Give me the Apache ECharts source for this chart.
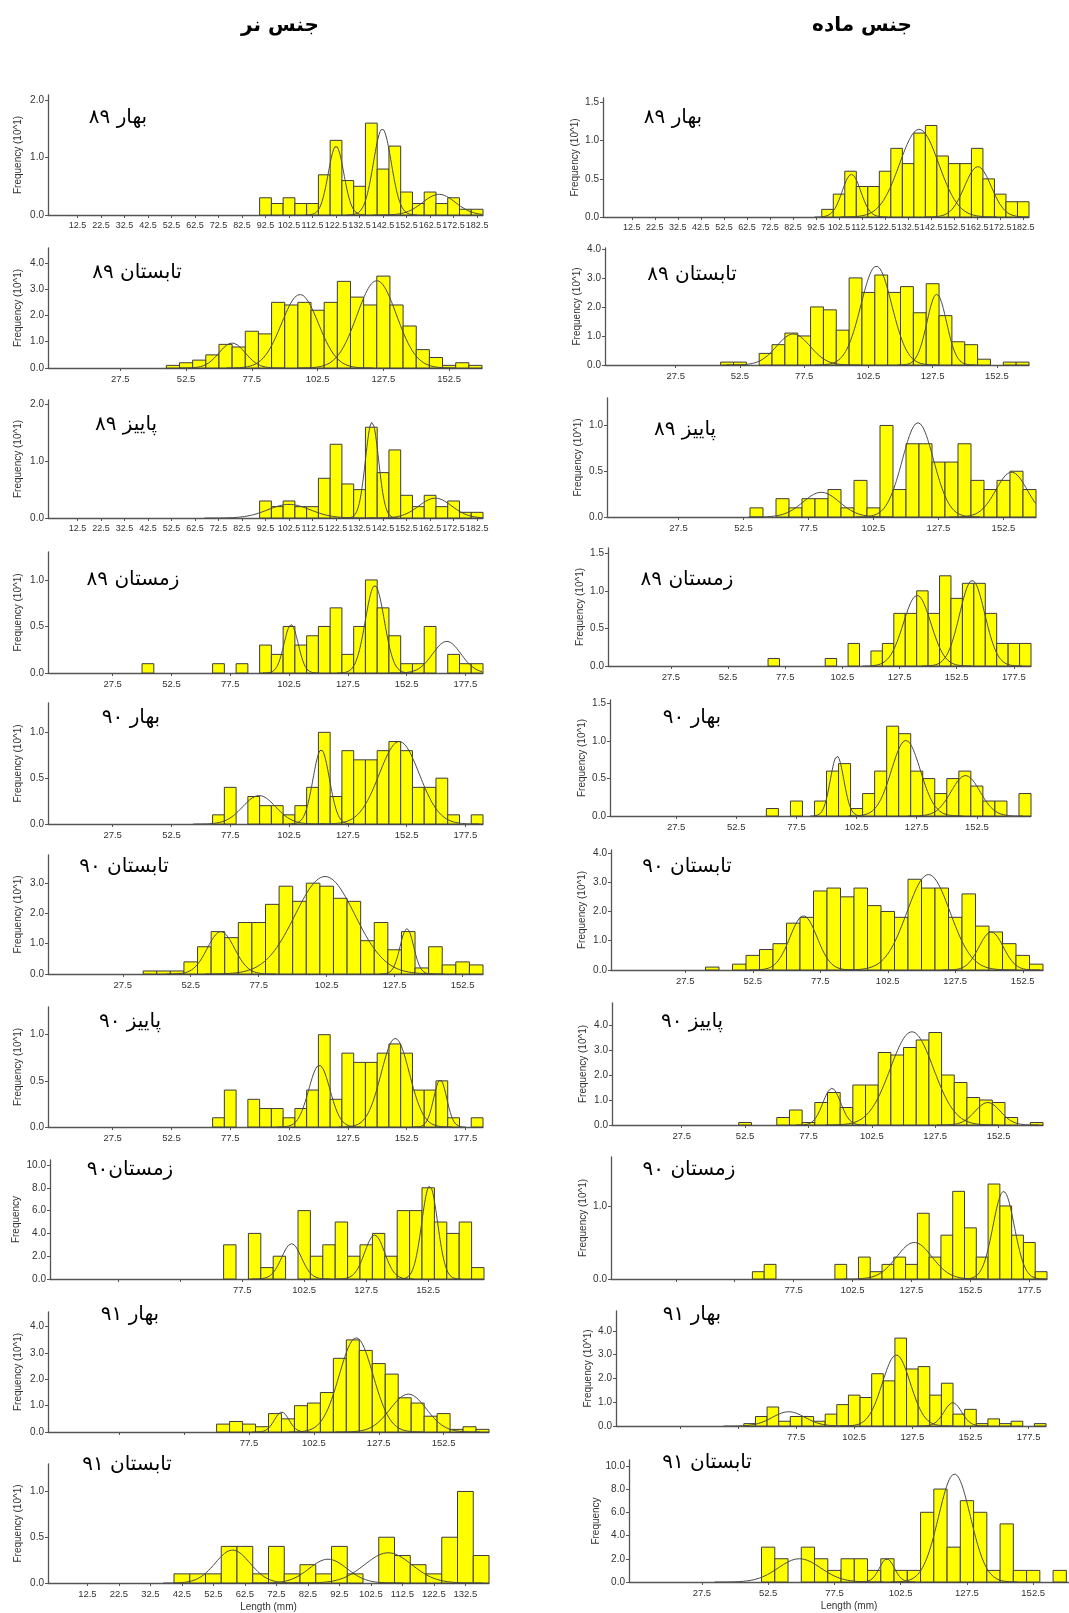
<!DOCTYPE html>
<html><head><meta charset="utf-8">
<script src="https://cdn.jsdelivr.net/npm/echarts@6/dist/echarts.min.js"></script>
<style>html,body{margin:0;padding:0;background:#fff}#c{width:1069px;height:1613px}</style>
</head><body><div id="c"></div>
<script>
// ---------------- DATA (frequencies per 5 mm length class) ----------------
const BIN_WIDTH = 5;

const maleSpring89Start = 90;
const maleSpring89 = [0.3,0.2,0.3,0.2,0.2,0.7,1.3,0.6,0.5,1.6,0.8,1.2,0.4,0.2,0.4,0.2,0.3,0.1,0.1];
const maleSpring89Fit = [[122.5,1.2,3.3],[142.2,1.5,3.8],[166.3,0.36,7]]; // [mean, peak, sd]

const maleSummer89Start = 45;
const maleSummer89 = [0.1,0.2,0.3,0.5,0.9,0.8,1.4,1.3,2.5,2.4,2.5,2.2,2.5,3.3,2.7,2.4,3.5,2.4,1.6,0.7,0.4,0.1,0.2,0.1];
const maleSummer89Fit = [[70,0.95,5],[95.8,2.8,7],[125,3.33,7.5]];

const maleAutumn89Start = 90;
const maleAutumn89 = [0.3,0.2,0.3,0.2,0.2,0.7,1.3,0.6,0.5,1.6,0.8,1.2,0.4,0.2,0.4,0.2,0.3,0.1,0.1];
const maleAutumn89Fit = [[102.5,0.24,9],[137.8,1.69,2.8],[164.7,0.35,7]];

const maleWinter89Start = 40;
const maleWinter89 = [0.1,0,0,0,0,0,0.1,0,0.1,0,0.3,0.2,0.5,0.3,0.4,0.5,0.7,0.2,0.5,1.0,0.7,0.4,0.1,0.1,0.5,0,0.2,0.1,0.1];
const maleWinter89Fit = [[103.4,0.52,3],[139,0.94,4],[169.6,0.34,6]];

const maleSpring90Start = 70;
const maleSpring90 = [0.1,0.4,0,0.3,0.2,0.2,0.1,0.2,0.4,1.0,0.3,0.8,0.7,0.7,0.8,0.9,0.8,0.4,0.4,0.5,0.1,0,0.1];
const maleSpring90Fit = [[89.8,0.31,7],[116.2,0.81,3.5],[149.4,0.9,8.5]];

const maleSummer90Start = 35;
const maleSummer90 = [0.1,0.1,0.1,0.4,0.9,1.4,1.2,1.7,1.7,2.3,2.9,2.4,3.0,2.9,2.5,2.4,1.1,1.7,0.8,1.4,0.2,0.9,0.3,0.4,0.3];
const maleSummer90Fit = [[63.6,1.4,5],[101.9,3.22,11],[132,1.5,2.5]];

const maleAutumn90Start = 70;
const maleAutumn90 = [0.1,0.4,0,0.3,0.2,0.2,0.1,0.2,0.4,1.0,0.3,0.8,0.7,0.7,0.8,0.9,0.8,0.4,0.4,0.5,0.1,0,0.1];
const maleAutumn90Fit = [[115.4,0.67,4.5],[147.7,0.96,6],[166.8,0.51,2.8]];

const maleWinter90Start = 70;
const maleWinter90 = [3,0,4,1,2,0,6,2,3,5,2,3,4,2,6,6,8,5,4,5,1];
const maleWinter90Fit = [[97.4,3.1,4],[130.9,3.86,4],[153.1,8.16,3.2]];

const maleSpring91Start = 65;
const maleSpring91 = [0.3,0.4,0.3,0.2,0.7,0.5,1.0,1.1,1.5,2.8,3.5,3.1,2.6,2.2,1.3,1.1,0.6,0.7,0.1,0.2,0.1];
const maleSpring91Fit = [[90.1,0.76,2.8],[118.8,3.58,6.5],[138.9,1.44,7]];

const maleSummer91Start = 40;
const maleSummer91 = [0.1,0.1,0.1,0.4,0.4,0.1,0.4,0.1,0.2,0.1,0.4,0.1,0,0.5,0.3,0.2,0.1,0.5,1.0,0.3];
const maleSummer91Fit = [[58.6,0.36,5.5],[88.9,0.26,6],[108,0.33,7.5]];

const femaleSpring89Start = 95;
const femaleSpring89 = [0.1,0.3,0.6,0.4,0.4,0.6,0.9,0.7,1.1,1.2,0.8,0.7,0.7,0.9,0.5,0.3,0.2,0.2];
const femaleSpring89Fit = [[107.9,0.56,4],[137.3,1.15,8.5],[162.8,0.66,5.8]];

const femaleSummer89Start = 45;
const femaleSummer89 = [0.1,0.1,0,0.4,0.7,1.1,1.0,2.0,1.9,1.2,3.0,2.5,3.1,2.5,2.7,1.8,2.8,1.7,0.8,0.7,0.2,0,0.1,0.1];
const femaleSummer89Fit = [[73.3,1.07,6.5],[105.6,3.41,6],[129.1,2.44,3.8]];

const femaleAutumn89Start = 55;
const femaleAutumn89 = [0.1,0,0.2,0.1,0.2,0.2,0.3,0.1,0.4,0.1,1.0,0.3,0.8,0.8,0.6,0.6,0.8,0.4,0.3,0.4,0.5,0.3];
const femaleAutumn89Fit = [[82.4,0.27,7],[119.6,1.03,6],[155.6,0.49,6]];

const femaleWinter89Start = 70;
const femaleWinter89 = [0.1,0,0,0,0,0.1,0,0.3,0,0.2,0.3,0.7,0.7,1.0,0.7,1.2,0.9,1.1,1.1,0.7,0.3,0.3,0.3];
const femaleWinter89Fit = [[135.2,0.94,6],[159.3,1.14,5.5]];

const femaleSpring90Start = 65;
const femaleSpring90 = [0.1,0,0.2,0,0.2,0.6,0.7,0.1,0.3,0.6,1.2,1.1,0.6,0.5,0.3,0.5,0.6,0.4,0.2,0.2,0,0.3];
const femaleSpring90Fit = [[94.4,0.8,2.8],[123,1.01,6],[147.8,0.54,6]];

const femaleSummer90Start = 35;
const femaleSummer90 = [0.1,0,0.2,0.5,0.7,0.9,1.6,1.8,2.7,2.8,2.5,2.8,2.2,2.0,1.8,3.1,2.8,2.8,1.8,2.6,1.5,1.3,0.9,0.5,0.2];
const femaleSummer90Fit = [[71.3,1.85,5],[117.6,3.26,8],[140.8,1.3,4.5]];

const femaleAutumn90Start = 50;
const femaleAutumn90 = [0.1,0,0,0.3,0.6,0.1,0.9,1.3,0.7,1.6,1.6,2.9,2.8,3.1,3.4,3.7,2.0,1.7,1.1,1.0,0.9,0.3,0,0.1];
const femaleAutumn90Fit = [[86.7,1.47,3.5],[118.3,3.73,8.5],[148.2,0.9,5]];

const femaleWinter90Start = 60;
const femaleWinter90 = [0.1,0.2,0,0,0,0,0,0.2,0,0.3,0.1,0.2,0.3,0.2,0.9,0.3,0.6,1.2,0.7,0.3,1.3,1.0,0.6,0.5,0.1];
const femaleWinter90Fit = [[128.7,0.5,7.5],[166.6,1.2,4.5]];

const femaleSpring91Start = 55;
const femaleSpring91 = [0.1,0.4,0.8,0.2,0.4,0.4,0.2,0.5,0.9,1.3,1.2,2.2,1.9,3.7,2.4,2.5,1.3,1.8,0.5,0.7,0.1,0.3,0.1,0.2,0,0.1];
const femaleSpring91Fit = [[74.3,0.6,7],[120.6,2.99,6],[144.9,0.98,3.8]];

const femaleSummer91Start = 50;
const femaleSummer91 = [3,2,0,3,2,1,2,2,1,2,1,1,6,8,3,7,6,1,5,1,1,0,1];
const femaleSummer91Fit = [[64.3,2.0,8],[97.3,2.0,2.8],[122.8,9.3,6]];

// tick label lists
const xTicksStep10 = [12.5,22.5,32.5,42.5,52.5,62.5,72.5,82.5,92.5,102.5,112.5,122.5,132.5,142.5,152.5,162.5,172.5,182.5];
const xTicksStep10Short = [12.5,22.5,32.5,42.5,52.5,62.5,72.5,82.5,92.5,102.5,112.5,122.5,132.5];
const xTicks25to152 = [27.5,52.5,77.5,102.5,127.5,152.5];
const xTicks25to177 = [27.5,52.5,77.5,102.5,127.5,152.5,177.5];
const xLabels77to152 = [77.5,102.5,127.5,152.5];
const xLabels77to177 = [77.5,102.5,127.5,152.5,177.5];
const yTicks012 = [0,1,2];
const yTicks0123 = [0,1,2,3];
const yTicks01234 = [0,1,2,3,4];
const yTicksHalf = [0,0.5,1];
const yTicksHalf15 = [0,0.5,1,1.5];
const yTicksEven = [0,2,4,6,8,10];
const yTicks01 = [0,1];

const headerMale = 'جنس نر';
const headerFemale = 'جنس ماده';
const Y10 = 'Frequency (10^1)';
const YRAW = 'Frequency';

const panels = [
  {t:'بهار ۸۹', s:maleSpring89Start, v:maleSpring89, f:maleSpring89Fit, xt:xTicksStep10, xl:xTicksStep10, yt:yTicks012, yn:Y10},
  {t:'تابستان ۸۹', s:maleSummer89Start, v:maleSummer89, f:maleSummer89Fit, xt:xTicks25to152, xl:xTicks25to152, yt:yTicks01234, yn:Y10},
  {t:'پاییز ۸۹', s:maleAutumn89Start, v:maleAutumn89, f:maleAutumn89Fit, xt:xTicksStep10, xl:xTicksStep10, yt:yTicks012, yn:Y10},
  {t:'زمستان ۸۹', s:maleWinter89Start, v:maleWinter89, f:maleWinter89Fit, xt:xTicks25to177, xl:xTicks25to177, yt:yTicksHalf, yn:Y10},
  {t:'بهار ۹۰', s:maleSpring90Start, v:maleSpring90, f:maleSpring90Fit, xt:xTicks25to177, xl:xTicks25to177, yt:yTicksHalf, yn:Y10},
  {t:'تابستان ۹۰', s:maleSummer90Start, v:maleSummer90, f:maleSummer90Fit, xt:xTicks25to152, xl:xTicks25to152, yt:yTicks0123, yn:Y10},
  {t:'پاییز ۹۰', s:maleAutumn90Start, v:maleAutumn90, f:maleAutumn90Fit, xt:xTicks25to177, xl:xTicks25to177, yt:yTicksHalf, yn:Y10},
  {t:'زمستان۹۰', s:maleWinter90Start, v:maleWinter90, f:maleWinter90Fit, xt:xTicks25to152, xl:xLabels77to152, yt:yTicksEven, yn:YRAW},
  {t:'بهار ۹۱', s:maleSpring91Start, v:maleSpring91, f:maleSpring91Fit, xt:xTicks25to152, xl:xLabels77to152, yt:yTicks01234, yn:Y10},
  {t:'تابستان ۹۱', s:maleSummer91Start, v:maleSummer91, f:maleSummer91Fit, xt:xTicksStep10Short, xl:xTicksStep10Short, yt:yTicksHalf, yn:Y10, xn:'Length (mm)'},
  {t:'بهار ۸۹', s:femaleSpring89Start, v:femaleSpring89, f:femaleSpring89Fit, xt:xTicksStep10, xl:xTicksStep10, yt:yTicksHalf15, yn:Y10},
  {t:'تابستان ۸۹', s:femaleSummer89Start, v:femaleSummer89, f:femaleSummer89Fit, xt:xTicks25to152, xl:xTicks25to152, yt:yTicks01234, yn:Y10},
  {t:'پاییز ۸۹', s:femaleAutumn89Start, v:femaleAutumn89, f:femaleAutumn89Fit, xt:xTicks25to152, xl:xTicks25to152, yt:yTicksHalf, yn:Y10},
  {t:'زمستان ۸۹', s:femaleWinter89Start, v:femaleWinter89, f:femaleWinter89Fit, xt:xTicks25to177, xl:xTicks25to177, yt:yTicksHalf15, yn:Y10},
  {t:'بهار ۹۰', s:femaleSpring90Start, v:femaleSpring90, f:femaleSpring90Fit, xt:xTicks25to152, xl:xTicks25to152, yt:yTicksHalf15, yn:Y10},
  {t:'تابستان ۹۰', s:femaleSummer90Start, v:femaleSummer90, f:femaleSummer90Fit, xt:xTicks25to152, xl:xTicks25to152, yt:yTicks01234, yn:Y10},
  {t:'پاییز ۹۰', s:femaleAutumn90Start, v:femaleAutumn90, f:femaleAutumn90Fit, xt:xTicks25to152, xl:xTicks25to152, yt:yTicks01234, yn:Y10},
  {t:'زمستان ۹۰', s:femaleWinter90Start, v:femaleWinter90, f:femaleWinter90Fit, xt:xTicks25to177, xl:xLabels77to177, yt:yTicks01, yn:Y10},
  {t:'بهار ۹۱', s:femaleSpring91Start, v:femaleSpring91, f:femaleSpring91Fit, xt:xTicks25to177, xl:xLabels77to177, yt:yTicks01234, yn:Y10},
  {t:'تابستان ۹۱', s:femaleSummer91Start, v:femaleSummer91, f:femaleSummer91Fit, xt:xTicks25to152, xl:xTicks25to152, yt:yTicksEven, yn:YRAW, xn:'Length (mm)'}
];

// ---------------- LAYOUT (pixels) ----------------
// [axisX, rightX, topY, zeroY, xMax, yMax, nameCenterX, titleX, titleY]
const layout = [
  [48,483,95,215,185,2.09,18,118,118],
  [48,482,248,368,165,4.57,18,137,273],
  [48,483,400,518,185,2.08,18,126,425],
  [48,483,552,673,185,1.30,18,133,580],
  [48,483,703,824,185,1.32,18,131,718],
  [48,483,855,974,160,3.93,18,124,867],
  [48,483,1007,1127,185,1.30,18,130,1022],
  [50,484,1160,1279,175,10.44,16,130,1170],
  [48,489,1312,1432,170,4.56,18,130,1315],
  [48,489,1464,1585,140,1.30,18,127,1465],
  [603,1029,98,217,185,1.56,575,673,118],
  [605,1029,248,365,165,4.03,577,692,275],
  [607,1036,398,517,165,1.30,578,685,430],
  [608,1031,548,666,185,1.57,580,687,580],
  [610,1031,700,816,175,1.55,582,692,718],
  [611,1043,850,970,160,4.10,582,687,867],
  [612,1043,1003,1125,170,4.88,583,692,1022],
  [611,1047,1157,1279,185,1.67,583,689,1170],
  [616,1046,1311,1426,185,4.84,588,692,1315],
  [629,1069,1460,1582,166,10.5,596,707,1463]
];

const AXIS = '#555';
const LABEL = '#333';
const FONT = 'Liberation Sans, Arial, sans-serif';
const PFONT = 'DejaVu Sans, Noto Sans, sans-serif';

function fitCurve(c, xmin, xmax) {
  const [m, h, s] = c;
  const pts = [];
  const a = Math.max(xmin, m - 4 * s), b = Math.min(xmax, m + 4 * s);
  for (let x = a; x <= b + 1e-9; x += 0.25) pts.push([x, h * Math.exp(-0.5 * ((x - m) / s) ** 2)]);
  return pts;
}

const grid = [], xAxis = [], yAxis = [], series = [], graphic = [];
panels.forEach((p, i) => {
  const [ax, rx, top, zero, xMax, yMax, nameX, tx, ty] = layout[i];
  const crowded = p.xl === xTicksStep10;
  grid.push({left: ax, top: top, width: rx - ax, height: zero - top, containLabel: false});
  xAxis.push({
    type: 'value', gridIndex: i, min: 0, max: xMax,
    axisLine: {show: true, onZero: false, lineStyle: {color: AXIS, width: 1.3}},
    axisTick: {show: true, length: 3, customValues: p.xt, lineStyle: {color: AXIS}},
    axisLabel: {customValues: p.xl, formatter: v => v.toFixed(1), fontSize: crowded ? 9 : 9.5, color: LABEL, fontFamily: FONT, margin: 6, hideOverlap: false, showMinLabel: true, showMaxLabel: true},
    splitLine: {show: false},
    name: p.xn || '', nameLocation: 'middle', nameGap: 19,
    nameTextStyle: {fontSize: 10, color: LABEL, fontFamily: FONT}
  });
  yAxis.push({
    type: 'value', gridIndex: i, min: 0, max: yMax,
    axisLine: {show: true, lineStyle: {color: AXIS, width: 1.3}},
    axisTick: {show: true, length: 3, customValues: p.yt, lineStyle: {color: AXIS}},
    axisLabel: {customValues: p.yt, formatter: v => v.toFixed(1), fontSize: 10, color: LABEL, fontFamily: FONT, margin: 4},
    splitLine: {show: false},
    name: p.yn, nameLocation: 'middle', nameRotate: 90, nameGap: ax - nameX - 5,
    nameTextStyle: {fontSize: 10, color: LABEL, fontFamily: FONT}
  });
  const bars = p.v.map((c, k) => [p.s + k * BIN_WIDTH, p.s + (k + 1) * BIN_WIDTH, c]);
  series.push({
    type: 'custom', xAxisIndex: i, yAxisIndex: i, data: bars, encode: {x: [0, 1], y: 2},
    renderItem: function (params, api) {
      if (api.value(2) <= 0) return null;
      const a = api.coord([api.value(0), 0]);
      const b = api.coord([api.value(1), api.value(2)]);
      const cs = params.coordSys;
      const r = echarts.graphic.clipRectByRect(
        {x: a[0], y: b[1], width: b[0] - a[0], height: a[1] - b[1]},
        {x: cs.x, y: cs.y - 2, width: cs.width, height: cs.height + 2});
      if (!r) return null;
      return {type: 'rect', shape: r, style: {fill: '#ffff00', stroke: '#3c3c3c', lineWidth: 1}};
    },
    silent: true, animation: false
  });
  p.f.forEach(c => {
    series.push({
      type: 'line', xAxisIndex: i, yAxisIndex: i, data: fitCurve(c, 0, xMax),
      showSymbol: false, symbol: 'none', silent: true, animation: false, z: 3,
      lineStyle: {color: '#4a4a4a', width: 1}
    });
  });
  graphic.push({type: 'text', x: tx, y: ty,
    style: {text: p.t, fontSize: 20, fontFamily: PFONT, fill: '#000', textAlign: 'center', textVerticalAlign: 'middle'}});
});
graphic.push({type: 'text', x: 280, y: 26, style: {text: headerMale, fontSize: 20, fontWeight: 'bold', fontFamily: PFONT, fill: '#000', textAlign: 'center', textVerticalAlign: 'middle'}});
graphic.push({type: 'text', x: 862, y: 26, style: {text: headerFemale, fontSize: 20, fontWeight: 'bold', fontFamily: PFONT, fill: '#000', textAlign: 'center', textVerticalAlign: 'middle'}});

const chart = echarts.init(document.getElementById('c'), null, {renderer: 'canvas', width: 1069, height: 1613});
chart.setOption({backgroundColor: '#fff', animation: false, grid, xAxis, yAxis, series, graphic});
</script>
</body></html>
